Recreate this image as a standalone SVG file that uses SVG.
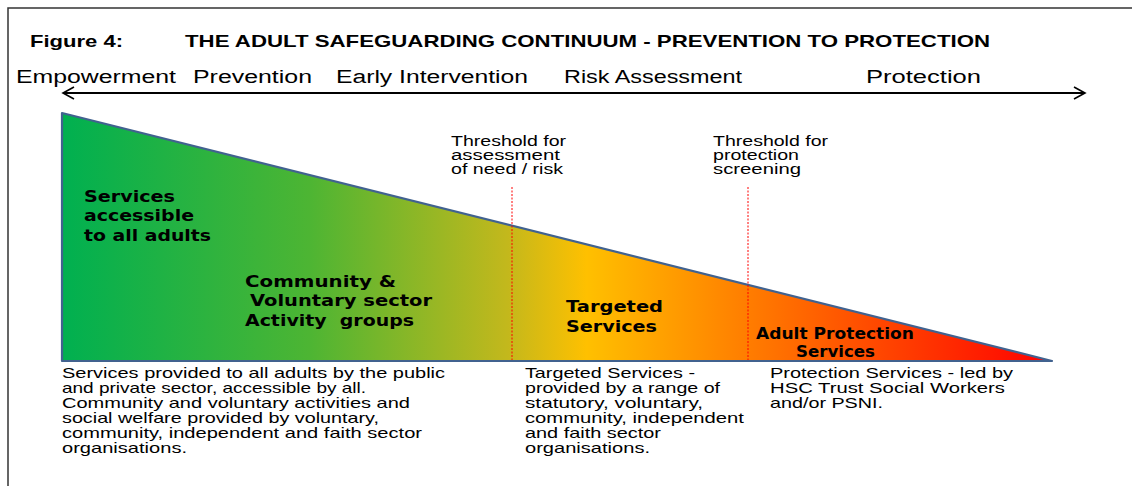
<svg xmlns="http://www.w3.org/2000/svg" width="1132" height="486" viewBox="0 0 1132 486">
<style>
.hd{font-family:"Liberation Sans",Arial,sans-serif;font-weight:bold;font-size:17px;fill:#000}
.sc{font-family:"Liberation Sans",Arial,sans-serif;font-size:18px;fill:#000}
.bl{font-family:"DejaVu Sans",Verdana,sans-serif;font-weight:bold;font-size:15px;fill:#000}
.th{font-family:"Liberation Sans",Arial,sans-serif;font-size:14px;fill:#000}
.ds{font-family:"Liberation Sans",Arial,sans-serif;font-size:14.5px;fill:#000}
.dash{stroke:#ff0000;stroke-width:1;stroke-dasharray:2 1.5;fill:none}
</style>
<defs>
<linearGradient id="g" x1="62" y1="0" x2="1052" y2="0" gradientUnits="userSpaceOnUse">
<stop offset="0" stop-color="#00b050"/>
<stop offset="0.25" stop-color="#4db533"/>
<stop offset="0.45" stop-color="#c3b81c"/>
<stop offset="0.53" stop-color="#ffc000"/>
<stop offset="0.7" stop-color="#ff7a00"/>
<stop offset="1" stop-color="#ff0000"/>
</linearGradient>
<marker id="open" markerWidth="14" markerHeight="14" refX="12" refY="7" orient="auto-start-reverse" markerUnits="userSpaceOnUse">
<path d="M1,1 L12,7 L1,13" fill="none" stroke="#000" stroke-width="1.6"/>
</marker>
</defs>
<rect width="1132" height="486" fill="#fff"/>
<path d="M8,486 V8 H1132" fill="none" stroke="#333" stroke-width="1.5"/>
<g id="title">
<text class="hd" x="30" y="47" textLength="93" lengthAdjust="spacingAndGlyphs">Figure 4:</text>
<text class="hd" x="185" y="47" textLength="805" lengthAdjust="spacingAndGlyphs">THE ADULT SAFEGUARDING CONTINUUM - PREVENTION TO PROTECTION</text>
</g>
<g id="scale">
<text class="sc" x="16" y="83" textLength="160" lengthAdjust="spacingAndGlyphs">Empowerment</text>
<text class="sc" x="193" y="83" textLength="119" lengthAdjust="spacingAndGlyphs">Prevention</text>
<text class="sc" x="336" y="83" textLength="192" lengthAdjust="spacingAndGlyphs">Early Intervention</text>
<text class="sc" x="564" y="83" textLength="178" lengthAdjust="spacingAndGlyphs">Risk Assessment</text>
<text class="sc" x="866" y="83" textLength="115" lengthAdjust="spacingAndGlyphs">Protection</text>
</g>
<g id="connectors">
<line x1="63" y1="93" x2="1085" y2="93" stroke="#000" stroke-width="1.8" marker-start="url(#open)" marker-end="url(#open)"/>
</g>
<g id="triangle">
<path d="M62,113 L62,361 L1052,361 Z" fill="url(#g)" stroke="#41628f" stroke-width="2.2" stroke-linejoin="round"/>
</g>
<g id="thresholds">
<line class="dash" x1="512" y1="187" x2="512" y2="360"/>
<line class="dash" x1="748" y1="187" x2="748" y2="360"/>
<text class="th" x="451" y="146" textLength="115" lengthAdjust="spacingAndGlyphs">Threshold for</text>
<text class="th" x="451" y="160" textLength="109" lengthAdjust="spacingAndGlyphs">assessment</text>
<text class="th" x="451" y="174" textLength="112" lengthAdjust="spacingAndGlyphs">of need / risk</text>
<text class="th" x="713" y="146" textLength="115" lengthAdjust="spacingAndGlyphs">Threshold for</text>
<text class="th" x="713" y="160" textLength="86" lengthAdjust="spacingAndGlyphs">protection</text>
<text class="th" x="713" y="174" textLength="88" lengthAdjust="spacingAndGlyphs">screening</text>
</g>
<g id="labels">
<text class="bl" x="84" y="202" textLength="91" lengthAdjust="spacingAndGlyphs">Services</text>
<text class="bl" x="84" y="221" textLength="110" lengthAdjust="spacingAndGlyphs">accessible</text>
<text class="bl" x="84" y="241" textLength="127" lengthAdjust="spacingAndGlyphs">to all adults</text>
<text class="bl" x="245" y="287" textLength="151" lengthAdjust="spacingAndGlyphs">Community &amp;</text>
<text class="bl" x="250" y="306" textLength="182" lengthAdjust="spacingAndGlyphs">Voluntary sector</text>
<text class="bl" x="245" y="326" textLength="169" lengthAdjust="spacingAndGlyphs" xml:space="preserve">Activity  groups</text>
<text class="bl" x="566" y="312" textLength="97" lengthAdjust="spacingAndGlyphs">Targeted</text>
<text class="bl" x="566" y="332" textLength="91" lengthAdjust="spacingAndGlyphs">Services</text>
<text class="bl" x="756" y="339" textLength="158" lengthAdjust="spacingAndGlyphs">Adult Protection</text>
<text class="bl" x="796" y="357" textLength="79" lengthAdjust="spacingAndGlyphs">Services</text>
</g>
<g id="descriptions">
<text class="ds" x="62" y="378" textLength="383" lengthAdjust="spacingAndGlyphs">Services provided to all adults by the public</text>
<text class="ds" x="62" y="393" textLength="304" lengthAdjust="spacingAndGlyphs">and private sector, accessible by all.</text>
<text class="ds" x="62" y="408" textLength="348" lengthAdjust="spacingAndGlyphs">Community and voluntary activities and</text>
<text class="ds" x="62" y="423" textLength="317" lengthAdjust="spacingAndGlyphs">social welfare provided by voluntary,</text>
<text class="ds" x="62" y="438" textLength="360" lengthAdjust="spacingAndGlyphs">community, independent and faith sector</text>
<text class="ds" x="62" y="453" textLength="125" lengthAdjust="spacingAndGlyphs">organisations.</text>
<text class="ds" x="525" y="378" textLength="170" lengthAdjust="spacingAndGlyphs">Targeted Services -</text>
<text class="ds" x="525" y="393" textLength="195" lengthAdjust="spacingAndGlyphs">provided by a range of</text>
<text class="ds" x="525" y="408" textLength="178" lengthAdjust="spacingAndGlyphs">statutory, voluntary,</text>
<text class="ds" x="525" y="423" textLength="219" lengthAdjust="spacingAndGlyphs">community, independent</text>
<text class="ds" x="525" y="438" textLength="136" lengthAdjust="spacingAndGlyphs">and faith sector</text>
<text class="ds" x="525" y="453" textLength="125" lengthAdjust="spacingAndGlyphs">organisations.</text>
<text class="ds" x="770" y="378" textLength="243" lengthAdjust="spacingAndGlyphs">Protection Services - led by</text>
<text class="ds" x="770" y="393" textLength="235" lengthAdjust="spacingAndGlyphs">HSC Trust Social Workers</text>
<text class="ds" x="770" y="408" textLength="113" lengthAdjust="spacingAndGlyphs">and/or PSNI.</text>
</g>
</svg>
